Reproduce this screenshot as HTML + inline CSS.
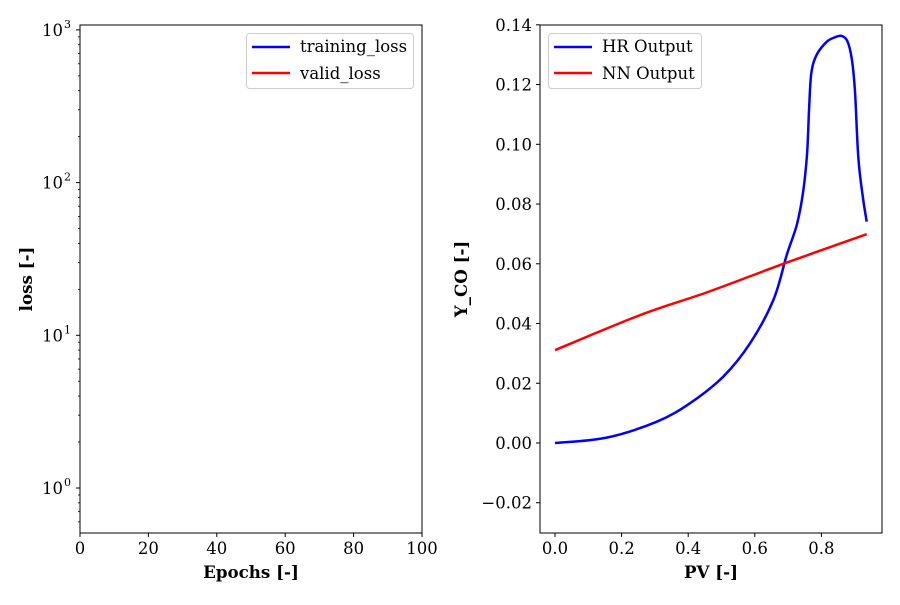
<!DOCTYPE html>
<html><head><meta charset="utf-8"><style>
body{margin:0;background:#fff}
svg text{font-family:"DejaVu Serif","Liberation Serif",serif;fill:#000}
</style></head><body>
<svg id="c" width="900" height="600" xmlns="http://www.w3.org/2000/svg"></svg>
<script>
const lossXTicks=[0,20,40,60,80,100];
const lossYExps=[0,1,2,3];
const pvTicks=[0.0,0.2,0.4,0.6,0.8];
const ycoTicks=[-0.02,0,0.02,0.04,0.06,0.08,0.10,0.12,0.14];
const hrPV=[0,0.155,0.305,0.405,0.505,0.586,0.656,0.696,0.726,0.745,0.757,0.763,0.770,0.786,0.816,0.840,0.861,0.878,0.891,0.901,0.911,0.925,0.936];
const hrY=[0,0.0018,0.0071,0.0133,0.0222,0.0334,0.0479,0.063,0.073,0.084,0.097,0.112,0.124,0.130,0.1343,0.1358,0.1363,0.1345,0.1288,0.1176,0.0953,0.082,0.0741];
const nnPV=[0,0.255,0.455,0.696,0.936];
const nnY=[0.0311,0.0428,0.0504,0.0604,0.0699];
const NS="http://www.w3.org/2000/svg";
const svg=document.getElementById('c');
function mk(t,a,p){const e=document.createElementNS(NS,t);for(const k in a)e.setAttribute(k,a[k]);(p||svg).appendChild(e);return e;}
function txt(s,a,name){const e=mk('text',a);e.textContent=s;
return e;}
const FS=16.5;
const L={x0:80,x1:422,y0:25,y1:533};
const lx=v=>L.x0+(v-0)/100*(L.x1-L.x0);
const ly=v=>488-(Math.log10(v))*152.7;
const R={x0:540,x1:882,y0:25,y1:533};
const rx=v=>555+v*333;
const ry=v=>443-v*2987;
lossXTicks.forEach(t=>{const x=lx(t);const l=mk('line',{x1:x,x2:x,y1:L.y1,y2:L.y1+4,stroke:'#000'});

txt(String(t),{x:x,y:L.y1+21,'font-size':FS,'text-anchor':'middle'},'x-tick-label');});
lossYExps.forEach(e=>{const y=ly(Math.pow(10,e));const l=mk('line',{x1:L.x0-4,x2:L.x0,y1:y,y2:y,stroke:'#000'});

txt('10',{x:L.x0-17,y:y+6,'font-size':FS,'text-anchor':'end'},'y-tick-label');
txt(String(e),{x:L.x0-16,y:y-2,'font-size':11,'text-anchor':'start'},'y-tick-exponent');});
for(let e=-1;e<=3;e++)for(let m=2;m<=9;m++){const v=m*Math.pow(10,e);const y=ly(v);if(y<L.y0||y>L.y1)continue;
const l=mk('line',{x1:L.x0-2,x2:L.x0,y1:y,y2:y,stroke:'#000','stroke-width':0.8});
}
const lf=mk('rect',{x:L.x0,y:L.y0,width:L.x1-L.x0,height:L.y1-L.y0,fill:'none',stroke:'#000'});

txt('Epochs [-]',{x:(L.x0+L.x1)/2,y:578,'font-size':16.7,'font-weight':'bold','text-anchor':'middle'},'x-axis-title');
txt('loss [-]',{x:0,y:0,'font-size':16.7,'font-weight':'bold','text-anchor':'middle',transform:'translate(32,279) rotate(-90)'},'y-axis-title');
const lg=mk('g',{});
mk('rect',{x:246.5,y:33.5,width:167,height:55,rx:3,fill:'#fff',stroke:'#ccc'},lg);
mk('line',{x1:252,x2:290,y1:47,y2:47,stroke:'#00f','stroke-width':2.5},lg);
mk('line',{x1:252,x2:290,y1:73,y2:73,stroke:'#f00','stroke-width':2.5},lg);
txt('training_loss',{x:300,y:52,'font-size':FS},'legend-entry-training');
txt('valid_loss',{x:300,y:79,'font-size':FS},'legend-entry-valid');
pvTicks.forEach(t=>{const x=rx(t);const l=mk('line',{x1:x,x2:x,y1:R.y1,y2:R.y1+4,stroke:'#000'});

txt(t.toFixed(1),{x:x,y:R.y1+21,'font-size':FS,'text-anchor':'middle'},'x-tick-label');});
ycoTicks.forEach(t=>{const y=ry(t);const l=mk('line',{x1:R.x0-4,x2:R.x0,y1:y,y2:y,stroke:'#000'});

txt((t<0?'\u2212':'')+Math.abs(t).toFixed(2),{x:R.x0-8,y:y+6,'font-size':FS,'text-anchor':'end'},'y-tick-label');});
function smooth(xs,ys,col,name){const pts=xs.map((v,i)=>[rx(v),ry(ys[i])]);let d='M'+pts[0].join(',');
for(let i=0;i<pts.length-1;i++){const p0=pts[i-1]||pts[i],p1=pts[i],p2=pts[i+1],p3=pts[i+2]||p2;
const c1=[p1[0]+(p2[0]-p0[0])/6,p1[1]+(p2[1]-p0[1])/6],c2=[p2[0]-(p3[0]-p1[0])/6,p2[1]-(p3[1]-p1[1])/6];
d+='C'+c1.map(v=>v.toFixed(1)).join(',')+' '+c2.map(v=>v.toFixed(1)).join(',')+' '+p2.map(v=>v.toFixed(1)).join(',');}
const p=mk('path',{d:d,fill:'none',stroke:col,'stroke-width':2.5,'stroke-linejoin':'round'});
}
smooth(hrPV,hrY,'#00f','hr-output-line');
smooth(nnPV,nnY,'#f00','nn-output-line');
const rf=mk('rect',{x:R.x0,y:R.y0,width:R.x1-R.x0,height:R.y1-R.y0,fill:'none',stroke:'#000'});

txt('PV [-]',{x:(R.x0+R.x1)/2,y:578,'font-size':16.7,'font-weight':'bold','text-anchor':'middle'},'x-axis-title');
txt('Y_CO [-]',{x:0,y:0,'font-size':16.7,'font-weight':'bold','text-anchor':'middle',transform:'translate(467,279) rotate(-90)'},'y-axis-title');
const rg=mk('g',{});
mk('rect',{x:548.5,y:33.5,width:153,height:55,rx:3,fill:'#fff',stroke:'#ccc'},rg);
mk('line',{x1:554,x2:592,y1:47,y2:47,stroke:'#00f','stroke-width':2.5},rg);
mk('line',{x1:554,x2:592,y1:73,y2:73,stroke:'#f00','stroke-width':2.5},rg);
txt('HR Output',{x:602,y:52,'font-size':FS},'legend-entry-hr');
txt('NN Output',{x:602,y:79,'font-size':FS},'legend-entry-nn');
</script>
</body></html>
